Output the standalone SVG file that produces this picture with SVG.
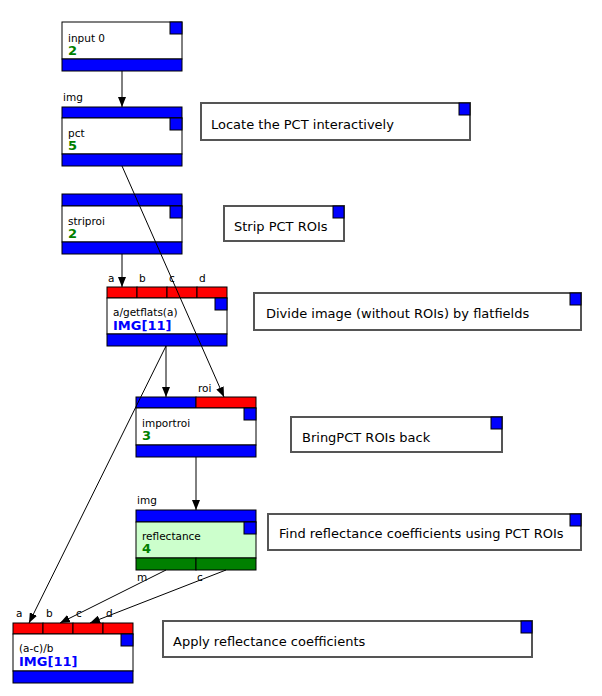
<svg xmlns="http://www.w3.org/2000/svg" width="602" height="696" viewBox="0 0 602 696">
<defs>
<marker id="arr" markerUnits="userSpaceOnUse" markerWidth="10" markerHeight="8" refX="10" refY="4" orient="auto"><path d="M0,0 L10,4 L0,8 z" fill="#000"/></marker>
<style>
.b{fill:#0000ff;stroke:#000;stroke-width:1}
.r{fill:#ff0000;stroke:#000;stroke-width:1}
.g{fill:#008000;stroke:#000;stroke-width:1}
.w{fill:#fff;stroke:#000;stroke-width:1}
.lg{fill:#ccffcc;stroke:#000;stroke-width:1}
.sq{fill:#0000ff;stroke:#000;stroke-width:1}
.cm{fill:#fff;stroke:#555;stroke-width:2}
.lbl{font-family:"DejaVu Sans",Verdana,sans-serif;font-size:10.5px;fill:#000}
.num{font-family:"DejaVu Sans",Verdana,sans-serif;font-size:13px;font-weight:bold;fill:#008000}
.img{font-family:"DejaVu Sans",Verdana,sans-serif;font-size:13px;font-weight:bold;fill:#0000ff}
.ct{font-family:"DejaVu Sans",Verdana,sans-serif;font-size:13px;fill:#000}
.ln{stroke:#000;stroke-width:1;fill:none;marker-end:url(#arr)}
</style>
</defs>
<rect width="602" height="696" fill="#fff"/>
<g id="input0">
<rect class="w" x="62" y="22" width="120" height="37"/>
<rect class="b" x="62" y="59" width="120" height="12"/>
<rect class="sq" x="170" y="22" width="12" height="12"/>
<text class="lbl" x="68" y="42">input 0</text>
<text class="num" x="68" y="55">2</text>
</g>
<g id="pct">
<text class="lbl" x="63" y="101">img</text>
<rect class="b" x="62" y="107" width="120" height="11"/>
<rect class="w" x="62" y="118" width="120" height="36"/>
<rect class="b" x="62" y="154" width="120" height="12"/>
<rect class="sq" x="170" y="118" width="12" height="12"/>
<text class="lbl" x="68" y="137">pct</text>
<text class="num" x="68" y="150">5</text>
</g>
<g id="striproi">
<rect class="b" x="62" y="194" width="120" height="12"/>
<rect class="w" x="62" y="206" width="120" height="36"/>
<rect class="b" x="62" y="242" width="120" height="12"/>
<rect class="sq" x="170" y="206" width="12" height="12"/>
<text class="lbl" x="68" y="225">striproi</text>
<text class="num" x="68" y="238">2</text>
</g>
<g id="getflats">
<text class="lbl" x="108" y="282">a</text>
<text class="lbl" x="139" y="282">b</text>
<text class="lbl" x="169" y="282">c</text>
<text class="lbl" x="199" y="282">d</text>
<rect class="r" x="107" y="287" width="30" height="11"/>
<rect class="r" x="137" y="287" width="30" height="11"/>
<rect class="r" x="167" y="287" width="30" height="11"/>
<rect class="r" x="197" y="287" width="30" height="11"/>
<rect class="w" x="107" y="298" width="120" height="36"/>
<rect class="b" x="107" y="334" width="120" height="12"/>
<rect class="sq" x="215" y="298" width="12" height="12"/>
<text class="lbl" x="113" y="316">a/getflats(a)</text>
<text class="img" x="113" y="330">IMG[11]</text>
</g>
<g id="importroi">
<text class="lbl" x="198" y="392">roi</text>
<rect class="b" x="136" y="397" width="60" height="11"/>
<rect class="r" x="196" y="397" width="60" height="11"/>
<rect class="w" x="136" y="408" width="120" height="37"/>
<rect class="b" x="136" y="445" width="120" height="12"/>
<rect class="sq" x="244" y="408" width="12" height="12"/>
<text class="lbl" x="142" y="427">importroi</text>
<text class="num" x="142" y="440">3</text>
</g>
<g id="reflectance">
<text class="lbl" x="137" y="504">img</text>
<rect class="b" x="136" y="510" width="120" height="12"/>
<rect class="lg" x="136" y="522" width="120" height="36"/>
<rect class="g" x="136" y="558" width="60" height="12"/>
<rect class="g" x="196" y="558" width="60" height="12"/>
<rect class="sq" x="244" y="522" width="12" height="12"/>
<text class="lbl" x="142" y="540">reflectance</text>
<text class="num" x="142" y="553">4</text>
<text class="lbl" x="137" y="581">m</text>
<text class="lbl" x="197" y="581">c</text>
</g>
<g id="acb">
<text class="lbl" x="16" y="617">a</text>
<text class="lbl" x="46" y="617">b</text>
<text class="lbl" x="76" y="617">c</text>
<text class="lbl" x="106" y="617">d</text>
<rect class="r" x="13" y="623" width="30" height="11"/>
<rect class="r" x="43" y="623" width="30" height="11"/>
<rect class="r" x="73" y="623" width="30" height="11"/>
<rect class="r" x="103" y="623" width="30" height="11"/>
<rect class="w" x="13" y="634" width="120" height="37"/>
<rect class="b" x="13" y="671" width="120" height="12"/>
<rect class="sq" x="121" y="634" width="12" height="12"/>
<text class="lbl" x="19" y="652">(a-c)/b</text>
<text class="img" x="19" y="666">IMG[11]</text>
</g>
<g id="c1">
<rect class="cm" x="201" y="103" width="269" height="37"/>
<rect class="sq" x="459" y="103" width="11" height="12"/>
<text class="ct" x="211" y="129">Locate the PCT interactively</text>
</g>
<g id="c2">
<rect class="cm" x="224" y="206" width="120" height="35"/>
<rect class="sq" x="333" y="206" width="11" height="12"/>
<text class="ct" x="234" y="231">Strip PCT ROIs</text>
</g>
<g id="c3">
<rect class="cm" x="254" y="293" width="327" height="37"/>
<rect class="sq" x="570" y="293" width="11" height="12"/>
<text class="ct" x="266" y="318">Divide image (without ROIs) by flatfields</text>
</g>
<g id="c4">
<rect class="cm" x="291" y="417" width="211" height="35"/>
<rect class="sq" x="491" y="417" width="11" height="12"/>
<text class="ct" x="302" y="442">BringPCT ROIs back</text>
</g>
<g id="c5">
<rect class="cm" x="268" y="514" width="313" height="36"/>
<rect class="sq" x="570" y="514" width="11" height="12"/>
<text class="ct" x="279" y="538">Find reflectance coefficients using PCT ROIs</text>
</g>
<g id="c6">
<rect class="cm" x="163" y="621" width="369" height="36"/>
<rect class="sq" x="521" y="621" width="11" height="12"/>
<text class="ct" x="173" y="646">Apply reflectance coefficients</text>
</g>
<g id="connectors">
<line class="ln" x1="122" y1="71" x2="122" y2="107"/>
<line class="ln" x1="122" y1="166" x2="224" y2="397"/>
<line class="ln" x1="122" y1="254" x2="122" y2="287"/>
<line class="ln" x1="166" y1="346" x2="166" y2="397"/>
<line class="ln" x1="166" y1="346" x2="29" y2="623"/>
<line class="ln" x1="196" y1="457" x2="196" y2="510"/>
<line class="ln" x1="166" y1="570" x2="60" y2="623"/>
<line class="ln" x1="226" y1="570" x2="90" y2="623"/>
</g>
</svg>
